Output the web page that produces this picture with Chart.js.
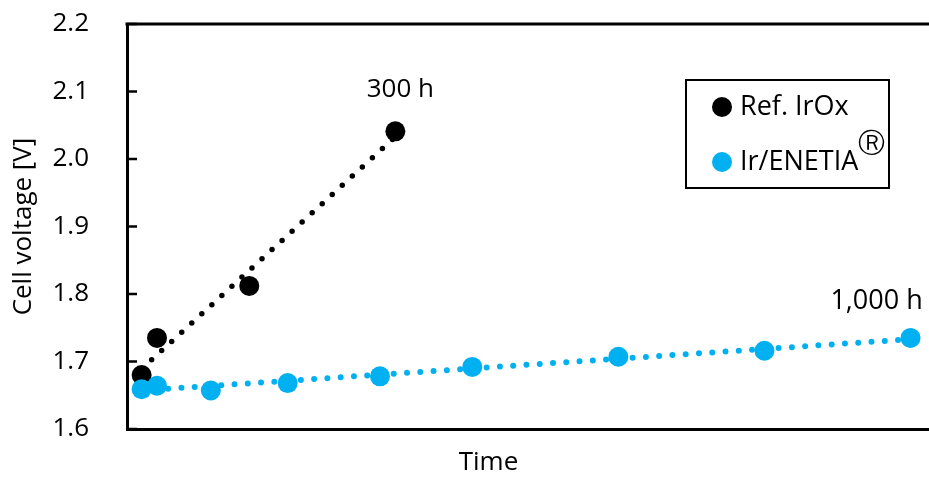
<!DOCTYPE html>
<html>
<head>
<meta charset="utf-8">
<script src="https://cdn.jsdelivr.net/npm/chart.js@4.4.1/dist/chart.umd.min.js"></script>
<style>
html, body { margin: 0; padding: 0; background: #ffffff; }
#wrap { width: 929px; height: 479px; }
</style>
</head>
<body>
<div id="wrap"><canvas id="c" width="929" height="479"></canvas></div>
<script>
// ---- data ----
const seriesNames = ['Ref. IrOx', 'Ir/ENETIA'];
const refTimes = [0, 20, 140, 330];                 // hours
const refVoltage = [1.680, 1.735, 1.812, 2.041];    // V
const enetiaTimes = [0, 20, 90, 190, 310, 430, 620, 810, 1000];
const enetiaVoltage = [1.659, 1.664, 1.657, 1.668, 1.678, 1.692, 1.707, 1.716, 1.735];
const refTrendTimes = [0, 330];
const refTrendVoltage = [1.689, 2.033];
const enetiaTrendTimes = [0, 1000];
const enetiaTrendVoltage = [1.657, 1.733];
const yTickValues = [1.6, 1.7, 1.8, 1.9, 2.0, 2.1, 2.2];
const xTitle = 'Time';
const yTitle = 'Cell voltage [V]';
const noteTexts = ['300 h', '1,000 h'];
const regMark = '\u24C7';

const BLACK = '#000000';
const BLUE = '#00B0F0';
const FONT = "'Open Sans', 'Noto Sans', sans-serif";

function pts(xs, ys) { return xs.map((x, i) => ({ x: x, y: ys[i] })); }

const framePlugin = {
  id: 'frame',
  afterDraw(chart) {
    const { ctx, chartArea } = chart;
    const ys = chart.scales.y;
    ctx.save();
    ctx.strokeStyle = '#000';
    ctx.lineWidth = 3;
    ctx.beginPath();
    ctx.moveTo(chartArea.left - 1.5, chartArea.top);
    ctx.lineTo(chart.width, chartArea.top);
    ctx.stroke();
    // inward tick marks on the value axis
    ctx.lineWidth = 2.5;
    yTickValues.forEach(v => {
      const y = ys.getPixelForValue(v);
      ctx.beginPath();
      ctx.moveTo(chartArea.left, y);
      ctx.lineTo(chartArea.left + 10, y);
      ctx.stroke();
    });
    ctx.restore();
  }
};

const notesPlugin = {
  id: 'notes',
  afterDatasetsDraw(chart) {
    const { ctx } = chart;
    const xs = chart.scales.x, ys = chart.scales.y;
    ctx.save();
    ctx.fillStyle = '#000';
    ctx.font = '26px ' + FONT;
    ctx.textAlign = 'center';
    ctx.textBaseline = 'middle';
    const lastRef = refTimes.length - 1;
    ctx.fillText(noteTexts[0], xs.getPixelForValue(refTimes[lastRef]) + 5, ys.getPixelForValue(refVoltage[lastRef]) - 42);
    const lastEn = enetiaTimes.length - 1;
    ctx.font = '27px ' + FONT;
    ctx.fillText(noteTexts[1], xs.getPixelForValue(enetiaTimes[lastEn]) - 34, ys.getPixelForValue(enetiaVoltage[lastEn]) - 37);
    // x axis title
    ctx.font = '26px ' + FONT;
    ctx.fillText(xTitle, 488.5, 462.5);
    ctx.restore();
  }
};

const legendPlugin = {
  id: 'boxLegend',
  afterDraw(chart) {
    const { ctx } = chart;
    ctx.save();
    ctx.fillStyle = '#fff';
    ctx.fillRect(686, 80, 203, 108);
    ctx.strokeStyle = '#000';
    ctx.lineWidth = 2;
    ctx.strokeRect(686, 80, 203, 108);
    const rows = [{ c: BLACK, y: 107, t: seriesNames[0] }, { c: BLUE, y: 162, t: seriesNames[1] }];
    ctx.textAlign = 'left';
    ctx.textBaseline = 'middle';
    ctx.font = '27px ' + FONT;
    rows.forEach(r => {
      ctx.fillStyle = r.c;
      ctx.beginPath();
      ctx.arc(722, r.y, 10, 0, Math.PI * 2);
      ctx.fill();
      ctx.fillStyle = '#000';
      ctx.fillText(r.t, 740, r.y);
    });
    const w = ctx.measureText(seriesNames[1]).width;
    ctx.font = '27px ' + FONT + ", 'DejaVu Sans'";
    ctx.fillText(regMark, 740 + w, 144);
    ctx.restore();
  }
};

new Chart(document.getElementById('c'), {
  type: 'scatter',
  data: {
    datasets: [
      { label: seriesNames[1], data: pts(enetiaTimes, enetiaVoltage), showLine: false,
        pointRadius: 10, pointHoverRadius: 10, pointBorderWidth: 0,
        backgroundColor: BLUE, borderColor: BLUE, order: 0 },
      { label: seriesNames[1] + ' trend', data: pts(enetiaTrendTimes, enetiaTrendVoltage), showLine: true,
        pointRadius: 0, borderColor: BLUE, borderWidth: 6, borderDash: [0, 13.3],
        borderCapStyle: 'round', order: 1 },
      { label: seriesNames[0], data: pts(refTimes, refVoltage), showLine: false,
        pointRadius: 10, pointHoverRadius: 10, pointBorderWidth: 0,
        backgroundColor: BLACK, borderColor: BLACK, order: 2 },
      { label: seriesNames[0] + ' trend', data: pts(refTrendTimes, refTrendVoltage), showLine: true,
        pointRadius: 0, borderColor: BLACK, borderWidth: 5.5, borderDash: [0, 13.6],
        borderCapStyle: 'round', order: 3 }
    ]
  },
  options: {
    responsive: false,
    animation: false,
    devicePixelRatio: 1,
    layout: { autoPadding: false, padding: { top: 24, right: 0, left: 0, bottom: 0 } },
    plugins: { legend: { display: false }, tooltip: { enabled: false } },
    scales: {
      x: {
        type: 'linear', min: -19, max: 1024,
        ticks: { display: false },
        grid: { display: false, drawTicks: false },
        border: { display: true, color: '#000', width: 3 },
        afterFit(s) { s.height = 50; s.paddingLeft = 0; s.paddingRight = 0; }
      },
      y: {
        type: 'linear', min: 1.6, max: 2.2,
        afterBuildTicks(s) { s.ticks = yTickValues.map(v => ({ value: v })); },
        ticks: { padding: 38, color: '#000', font: { family: FONT, size: 26 },
                 callback: v => Number(v).toFixed(1) },
        grid: { display: false, drawOnChartArea: false, drawTicks: false },
        border: { display: true, color: '#000', width: 3 },
        title: { display: true, text: yTitle, color: '#000', font: { family: FONT, size: 26 },
                 padding: { top: 8, bottom: 0 } },
        afterFit(s) { s.width = 127; s.paddingTop = 0; s.paddingBottom = 0; }
      }
    }
  },
  plugins: [framePlugin, notesPlugin, legendPlugin]
});
</script>
</body>
</html>
